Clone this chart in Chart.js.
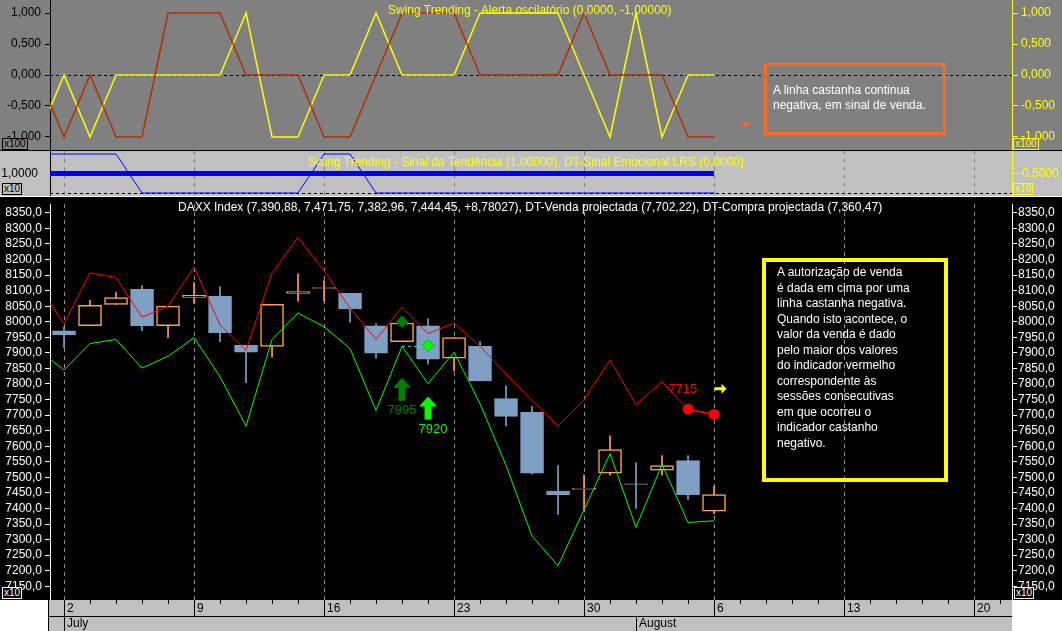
<!DOCTYPE html>
<html><head><meta charset="utf-8">
<script src="https://cdn.jsdelivr.net/npm/chart.js@4"></script>
<style>
body{margin:0;width:1062px;height:631px;background:#fff;position:relative;overflow:hidden;font-family:"Liberation Sans",Arial,sans-serif}
canvas{position:absolute;left:0}
.t{position:absolute;font-size:12px;white-space:nowrap}
.x{position:absolute;font-size:10px;line-height:10px;padding:0 1px;border:1px solid}
</style></head><body>
<canvas id="top" style="top:0;background:#808080" width="1062" height="150"></canvas>
<div style="position:absolute;top:150px;left:0;width:1062px;height:1px;background:#000"></div>
<canvas id="mid" style="top:151px;background:#c0c0c0" width="1062" height="45"></canvas>
<div style="position:absolute;top:196px;left:0;width:1062px;height:1px;background:#fff"></div>
<canvas id="main" style="top:197px;background:#000" width="1062" height="434"></canvas>

<div class="t" style="left:388px;top:3px;color:#ffff00">Swing Trending - Alerta oscilatório (0,0000, -1,00000)</div>
<div class="t" style="left:308px;top:155px;color:#ffff00">Swing Trending - Sinal da Tendência (1,00000), DT-Sinal Emocional LRS (0,0000)</div>
<div class="t" style="left:178px;top:200px;color:#fff">DAXX Index (7,390,88, 7,471,75, 7,382,96, 7,444,45, +8,78027), DT-Venda projectada (7,702,22), DT-Compra projectada (7,360,47)</div>

<div style="position:absolute;left:764px;top:63px;width:176px;height:66px;border:3px solid #ff6820"></div>
<div class="t" style="left:773px;top:83px;color:#fff;line-height:15px">A linha castanha continua<br>negativa, em sinal de venda.</div>
<div class="t" style="left:739px;top:117px;color:#ff6820;font-size:13px">➜</div>

<div style="position:absolute;left:762px;top:258px;width:178px;height:216px;border:4px solid #ffff00"></div>
<div class="t" style="left:777px;top:265px;color:#fff;line-height:15.5px;font-size:12px">A autorização de venda<br>é dada em cima por uma<br>linha castanha negativa.<br>Quando isto acontece, o<br>valor da venda é dado<br>pelo maior dos valores<br>do indicador vermelho<br>correspondente às<br>sessões consecutivas<br>em que ocorreu o<br>indicador castanho<br>negativo.</div>

<div class="x" style="left:2px;top:138px;border-color:#000;color:#000;background:#808080">x100</div>
<div class="x" style="left:1013px;top:138px;border-color:#ff0;color:#ff0;background:#808080">x100</div>
<div class="x" style="left:2px;top:183px;border-color:#000;color:#000;background:#c0c0c0">x10</div>
<div class="x" style="left:1013px;top:183px;border-color:#ff0;color:#ff0;background:#c0c0c0">x10</div>
<div class="x" style="left:2px;top:587px;border-color:#fff;color:#fff;background:#000">x10</div>
<div class="x" style="left:1014px;top:587px;border-color:#fff;color:#fff;background:#000">x10</div>

<script>
// ---- data ----
const dayIdx = [0,1,2,3,4,5,6,7,8,9,10,11,12,13,14,15,16,17,18,19,20,21,22,23,24,25];
const openV  = [7971,7987,8056,8104,7987,8078,8082,7924,7921,8091,8107,8091,7987,7936,7987,7883,7921,7753,7709,7456,7461,7513,7479,7523,7554,7390.88];
const highV  = [7984,8069,8094,8116,8050,8126,8113,7924,8056,8154,8132,8091,7993,7999,8009,7949,7936,7794,7728,7538,7507,7633,7547,7570,7570,7471.75];
const lowV   = [7917,7987,8056,7971,7949,8060,7936,7804,7886,8066,8066,7999,7883,7936,7864,7842,7810,7665,7510,7381,7396,7507,7400,7507,7428,7382.96];
const closeV = [7958,8053,8078,7987,8050,8085,7965,7902,8056,8097,8110,8041,7899,7996,7880,7949,7810,7696,7513,7444,7465,7589,7477,7538,7444,7444.45];
const lineIdx = [-1,0,1,2,3,4,5,6,7,8,9,10,11,12,13,14,15,16,17,18,19,20,21,22,23,24,25];
const vendaV  = [8117,7993,8157,8142,8015,8050,8176,7990,7908,8157,8271,8164,8044,7943,8047,7962,7996,7921,7832,7747,7665,7750,7877,7734,7807,7719,7702.22];
const compraV = [7909,7845,7930,7943,7851,7889,7949,7823,7665,7943,8028,7984,7914,7715,7921,7801,7902,7737,7538,7311,7216,7396,7576,7339,7542,7355,7360.47];
const oscYellow = [-1,0,-1,0,0,0,0,0,1,-1,-1,0,0,1,0,0,0,1,1,1,1,0,-1,1,-1,0,0];
const oscBrown  = [0,-1,0,-1,-1,1,1,1,0,0,0,-1,-1,0,1,1,1,0,0,0,0,1,0,0,0,-1,-1];
const trendThin  = [2,2,2,2,0,0,0,0,0,0,0,2,2,0,0,0,0,0,0,0,0,0,0,0,0,0,0];
const trendThick = [1,1,1,1,1,1,1,1,1,1,1,1,1,1,1,1,1,1,1,1,1,1,1,1,1,1,1];
const weekIdx = [0,5,10,15,20,25,30,35];
const weekLabels = ['2','9','16','23','30','6','13','20'];
const monthIdx = [0,22];
const monthLabels = ['July','August'];
const priceTicks = [8350,8300,8250,8200,8150,8100,8050,8000,7950,7900,7850,7800,7750,7700,7650,7600,7550,7500,7450,7400,7350,7300,7250,7200,7150];
const oscTicks = [1,0.5,0,-0.5,-1];
const sellIdx = [24,25], sellV = [7719,7702.22];
const diamondsDark = [{x:13,y:8000}], diamondsLight = [{x:14,y:7924}];
const signalArrows = [{x:13,y:7820,label:'7995',color:'#008000'},{x:14,y:7760,label:'7920',color:'#00ff00'}];
const redLabel = {x:23.8,y:7782,text:'7715'};
const yellowArrow = {x:25.25,y:7785};

const XMIN=-0.54, XMAX=36.46;
const FONT = {family:'"Liberation Sans", Arial, sans-serif', size:12};
const pts = (xs,ys)=>xs.map((x,i)=>({x,y:ys[i]}));
const fmt = d => v => v.toFixed(d).replace('.',',');
function fixW(s){ s.width=50; s.paddingTop=0; s.paddingBottom=0; }
function xScale(){
  return {type:'linear',min:XMIN,max:XMAX,offset:false,
    afterFit:s=>{s.height=0;s.paddingLeft=0;s.paddingRight=0;},
    ticks:{display:false},border:{display:false},grid:{display:false}};
}
Chart.defaults.animation=false;
Chart.defaults.font=FONT;
const common = {responsive:false,maintainAspectRatio:false,layout:{padding:0},
  plugins:{legend:{display:false},tooltip:{enabled:false}}};
function vgrid(color){return {id:'vg',beforeDatasetsDraw(ch){const c=ch.ctx,xs=ch.scales.x,a=ch.chartArea;c.save();c.strokeStyle=color;c.lineWidth=1;c.setLineDash([4,4]);
    weekIdx.forEach(v=>{const x=Math.round(xs.getPixelForValue(v))+0.5;c.beginPath();c.moveTo(x,a.top);c.lineTo(x,a.bottom);c.stroke();});c.restore();}};}
function hdash(val,scaleId){return {id:'hd',beforeDatasetsDraw(ch){const c=ch.ctx,y=Math.round(ch.scales[scaleId].getPixelForValue(val));
    c.save();c.strokeStyle='#000';c.lineWidth=1;c.setLineDash([3,3]);c.beginPath();c.moveTo(ch.chartArea.left,y+0.5);c.lineTo(ch.chartArea.right,y+0.5);c.stroke();c.restore();}};}

// ---- top oscillator ----
new Chart(document.getElementById('top'),{type:'line',
  data:{datasets:[
    {data:pts(lineIdx,oscBrown),borderColor:'#b03000',borderWidth:1.5,pointRadius:0},
    {data:pts(lineIdx,oscYellow),borderColor:'#ffff00',borderWidth:1.5,pointRadius:0}]},
  options:{...common,scales:{
    x:xScale(),
    y:{position:'left',min:-1.21,max:1.21,afterFit:fixW,
      afterBuildTicks:s=>{s.ticks=oscTicks.map(v=>({value:v}));},
      ticks:{color:'#000',callback:fmt(3),padding:4,autoSkip:false},
      border:{color:'#000'},grid:{drawOnChartArea:false,color:'#000',tickLength:5}},
    y2:{position:'right',min:-1.21,max:1.21,afterFit:fixW,
      afterBuildTicks:s=>{s.ticks=oscTicks.map(v=>({value:v}));},
      ticks:{color:'#ffff00',callback:fmt(3),padding:3,autoSkip:false},
      border:{color:'#ffff00'},grid:{drawOnChartArea:false,color:'#ffff00',tickLength:6}}
  }},
  plugins:[hdash(0,'y')]
});

// ---- middle trend ----
new Chart(document.getElementById('mid'),{type:'line',
  data:{datasets:[
    {data:pts(lineIdx,trendThin),borderColor:'#0000ff',borderWidth:1,pointRadius:0},
    {data:pts(lineIdx,trendThick),borderColor:'#0000ff',borderWidth:5,pointRadius:0}]},
  options:{...common,scales:{
    x:xScale(),
    y:{position:'left',min:-0.154,max:2.154,afterFit:fixW,
      afterBuildTicks:s=>{s.ticks=[{value:1}];},
      ticks:{color:'#000',callback:fmt(4),padding:4},
      border:{color:'#000'},grid:{display:false}},
    y2:{position:'right',min:-1.654,max:0.654,afterFit:fixW,
      afterBuildTicks:s=>{s.ticks=[{value:-0.5}];},
      ticks:{color:'#ffff00',callback:fmt(4),padding:1},
      border:{color:'#ffff00'},grid:{drawOnChartArea:false,color:'#ffff00',tickLength:5}}
  }},
  plugins:[hdash(0,'y'),vgrid('#808080')]
});

// ---- main price chart ----
const up = i=>closeV[i]>=openV[i];
const BLUE='#7f9fc4', ORANGE='#ffa050';
new Chart(document.getElementById('main'),{type:'bar',
  data:{datasets:[
    {type:'bar',order:5,data:dayIdx.map(i=>({x:i,y:[lowV[i],highV[i]]})),barThickness:1,grouped:false,
      backgroundColor:dayIdx.map(i=>up(i)?ORANGE:BLUE),borderWidth:0},
    {type:'bar',order:4,data:dayIdx.map(i=>({x:i,y:[openV[i],closeV[i]]})),barThickness:23,grouped:false,
      backgroundColor:dayIdx.map(i=>up(i)?'#000':BLUE),borderColor:dayIdx.map(i=>up(i)?ORANGE:BLUE),
      borderWidth:1.5,borderSkipped:false},
    {type:'line',order:3,data:pts(lineIdx,vendaV),borderColor:'#ff0000',borderWidth:1,pointRadius:0},
    {type:'line',order:3,data:pts(lineIdx,compraV),borderColor:'#00ff00',borderWidth:1,pointRadius:0},
    {type:'line',order:2,data:pts(sellIdx,sellV),borderColor:'#ff0000',borderWidth:1.5,pointRadius:5.5,pointBackgroundColor:'#ff0000',pointBorderWidth:0},
    {type:'line',order:2,data:[{x:13,y:7921},{x:14,y:7921}],borderColor:'#40e0e0',borderDash:[3,3],borderWidth:1,pointRadius:0},
    {type:'scatter',order:1,data:diamondsDark,pointStyle:'rectRot',pointRadius:6,backgroundColor:'#008000',borderColor:'#006000'},
    {type:'scatter',order:1,data:diamondsLight,pointStyle:'rectRot',pointRadius:6,backgroundColor:'#00ff00',borderColor:'#00c000'}
  ]},
  options:{...common,layout:{padding:{bottom:31}},scales:{
    x:xScale(),
    y:{position:'left',min:7105.8,max:8378.4,afterFit:fixW,
      afterBuildTicks:s=>{s.ticks=priceTicks.map(v=>({value:v}));},
      ticks:{color:'#fff',callback:fmt(1),padding:3,autoSkip:false},
      border:{color:'#fff'},grid:{drawOnChartArea:false,color:'#fff',tickLength:5}},
    y2:{position:'right',min:7105.8,max:8378.4,afterFit:fixW,
      afterBuildTicks:s=>{s.ticks=priceTicks.map(v=>({value:v}));},
      ticks:{color:'#fff',callback:fmt(1),padding:1,autoSkip:false},
      border:{color:'#fff'},grid:{drawOnChartArea:false,color:'#fff',tickLength:5}}
  }},
  plugins:[
   vgrid('#909090'),
   {id:'strip',afterDraw(ch){const c=ch.ctx,xs=ch.scales.x,a=ch.chartArea,H=ch.height;c.save();
     c.fillStyle='#fff';c.fillRect(0,a.bottom,a.left-2,H-a.bottom);c.fillRect(a.right,a.bottom,ch.width-a.right,H-a.bottom);
     c.fillStyle='#c0c0c0';c.fillRect(a.left-2,a.bottom,a.right-a.left+2,H-a.bottom);
     c.strokeStyle='#000';c.lineWidth=1;c.beginPath();c.moveTo(a.left-2,a.bottom+16.5);c.lineTo(a.right,a.bottom+16.5);c.stroke();
     c.beginPath();c.moveTo(a.left-1.5,a.bottom);c.lineTo(a.left-1.5,H);c.stroke();
     c.font='12px "Liberation Sans", Arial';c.fillStyle='#000';c.textBaseline='middle';
     for(let d=-1;d<=37;d++){const x=Math.round(xs.getPixelForValue(d))+0.5;if(x<a.left||x>a.right)continue;
       c.beginPath();c.moveTo(x,a.bottom);c.lineTo(x,a.bottom+(weekIdx.includes(d)?16:4));c.stroke();}
     weekIdx.forEach((v,i)=>{c.fillText(weekLabels[i],xs.getPixelForValue(v)+3,a.bottom+9);});
     monthIdx.forEach((v,i)=>{const x=Math.round(xs.getPixelForValue(v))+0.5;c.beginPath();c.moveTo(x,a.bottom+16);c.lineTo(x,H);c.stroke();
       c.fillText(monthLabels[i],x+2.5,a.bottom+24);});
     c.restore();}},
   {id:'marks',afterDatasetsDraw(ch){const c=ch.ctx,xs=ch.scales.x,ys=ch.scales.y;c.save();
     signalArrows.forEach(s=>{const x=xs.getPixelForValue(s.x),y=ys.getPixelForValue(s.y);
       c.fillStyle=s.color;c.beginPath();c.moveTo(x,y);c.lineTo(x+9,y+10);c.lineTo(x+3.5,y+10);c.lineTo(x+3.5,y+23);c.lineTo(x-3.5,y+23);c.lineTo(x-3.5,y+10);c.lineTo(x-9,y+10);c.closePath();c.fill();
       c.font='13px "Liberation Sans", Arial';c.textAlign='center';c.textBaseline='middle';c.fillText(s.label,x+(s.color==='#008000'?0:5),y+33);});
     c.font='13px "Liberation Sans", Arial';c.fillStyle='#ff0000';c.textAlign='center';c.textBaseline='middle';
     c.fillText(redLabel.text,xs.getPixelForValue(redLabel.x),ys.getPixelForValue(redLabel.y));
     const ax=xs.getPixelForValue(yellowArrow.x),ay=ys.getPixelForValue(yellowArrow.y);c.fillStyle='#ffff00';
     c.beginPath();c.moveTo(ax-6,ay-1.5);c.lineTo(ax+1,ay-1.5);c.lineTo(ax+1,ay-5);c.lineTo(ax+6,ay);c.lineTo(ax+1,ay+5);c.lineTo(ax+1,ay+1.5);c.lineTo(ax-6,ay+1.5);c.closePath();c.fill();
     c.restore();}}
  ]
});
</script>
</body></html>
